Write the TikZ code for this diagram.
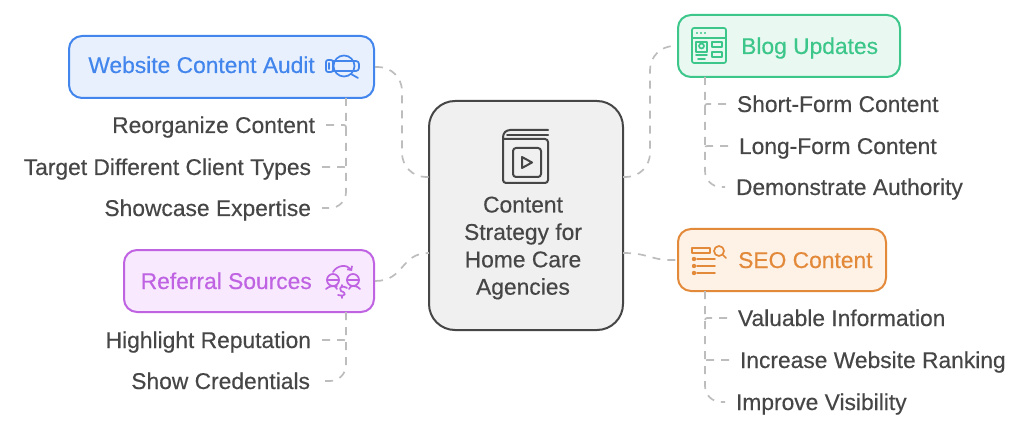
\documentclass[tikz,border=0pt]{standalone}
\usepackage{fontspec}
\setmainfont[RawFeature={embolden=0.4}]{Liberation Sans}
\usetikzlibrary{arrows.meta}
\definecolor{inkgray}{HTML}{464646}
\definecolor{linkgray}{HTML}{BDBDBD}
\definecolor{auditblue}{HTML}{4285EC}
\definecolor{auditfill}{HTML}{E8F0FE}
\definecolor{bloggreen}{HTML}{3CC68A}
\definecolor{blogfill}{HTML}{E9F9F2}
\definecolor{seoorange}{HTML}{E38A3A}
\definecolor{seofill}{HTML}{FEF1E6}
\definecolor{refpurple}{HTML}{BF63E3}
\definecolor{reffill}{HTML}{F8E9FE}
\tikzset{
    link/.style={draw=linkgray,line width=1.7pt,dash pattern=on 8pt off 7pt},
    topicbox/.style={draw,rounded corners=13pt,line width=2pt,inner sep=0pt},
    topictext/.style={inner sep=0pt,text height=19pt,text depth=3pt,font=\fontsize{22.8}{27}\selectfont},
    leafleft/.style={topictext,text=inkgray,anchor=east,outer sep=11pt},
    leafright/.style={topictext,text=inkgray,anchor=west,outer sep=11pt},
    iconline/.style={line width=1.7pt,line cap=round,line join=round}
}

\begin{document}
\begin{tikzpicture}[x=1pt,y=-1pt]
    \useasboundingbox (0,0) rectangle (1024,430);
    %%% BOXES %%%
    \node[topicbox,draw=inkgray,fill=black!6,rounded corners=26pt,minimum width=194pt,minimum height=229pt] (main) at (526,215.5){};
    \node[topicbox,draw=auditblue,fill=auditfill,minimum width=305pt,minimum height=62pt] (audit) at (221.5,67){};
    \node[topicbox,draw=bloggreen,fill=blogfill,minimum width=222pt,minimum height=62pt] (blog) at (789,46){};
    \node[topicbox,draw=seoorange,fill=seofill,minimum width=208pt,minimum height=62pt] (seo) at (782,260){};
    \node[topicbox,draw=refpurple,fill=reffill,minimum width=250pt,minimum height=62pt] (referral) at (249,281){};
    % box titles %
    \node[topictext,text=auditblue,anchor=east] (audittext) at (315,65){Website Content Audit};
    \node[topictext,text=bloggreen,anchor=west] (blogtext) at (741,46){Blog Updates};
    \node[topictext,text=seoorange,anchor=west] (seotext) at (738,260){SEO Content};
    \node[topictext,text=refpurple,anchor=east] (referraltext) at (312,281){Referral Sources};
    \node[topictext,text=inkgray,align=center,text height=,text depth=,font=\fontsize{22.8}{27.4}\selectfont] (maintext) at (523,248){Content\\Strategy for\\Home Care\\Agencies};
    %%% LEAVES %%%
    % website audit %
    \node[leafleft] (reorganize) at (326,125){Reorganize Content};
    \node[leafleft] (target) at (322,167){Target Different Client Types};
    \node[leafleft] (showcase) at (322,208){Showcase Expertise};
    % referral %
    \node[leafleft] (highlight) at (322,340){Highlight Reputation};
    \node[leafleft] (credentials) at (321,381){Show Credentials};
    % blog %
    \node[leafright] (shortform) at (726,104){Short-Form Content};
    \node[leafright] (longform) at (728,146){Long-Form Content};
    \node[leafright] (authority) at (725,187){Demonstrate Authority};
    % seo %
    \node[leafright] (valuable) at (727,318){Valuable Information};
    \node[leafright] (ranking) at (729,360){Increase Website Ranking};
    \node[leafright] (visibility) at (725,402){Improve Visibility};
    %%% CONNECTORS %%%
    \coordinate (mainaudit) at (429,177);
    \coordinate (mainreferral) at (429,253);
    \coordinate (mainblog) at (623,177);
    \coordinate (mainseo) at (623,253);
    \coordinate (auditbus) at (346,98);
    \coordinate (referralbus) at (346,312);
    \coordinate (blogbus) at (705,77);
    \coordinate (seobus) at (705,291);
    % centre to topics %
    \draw[link,rounded corners=24pt] (audit.east) -| (402,120) |- (mainaudit);
    \draw[link,rounded corners=24pt] (mainblog) -| (650,120) |- (blog.west);
    \draw[link] (referral.east) .. controls (405,281) and (400,253) .. (mainreferral);
    \draw[link] (mainseo) .. controls (650,253) and (650,261) .. (seo.west);
    % topics to leaves %
    \draw[link,rounded corners=16pt] (auditbus) |- (showcase.east);
    \draw[link,rounded corners=2pt] (reorganize.east) -- (reorganize.east -| auditbus) -- ++(0,5);
    \draw[link,rounded corners=2pt] (target.east) -- (target.east -| auditbus) -- ++(0,5);
    \draw[link,rounded corners=16pt] (referralbus) |- (credentials.east);
    \draw[link,rounded corners=2pt] (highlight.east) -- (highlight.east -| referralbus) -- ++(0,5);
    \draw[link,rounded corners=16pt] (blogbus) |- (authority.west);
    \draw[link,rounded corners=2pt] (shortform.west) -- (shortform.west -| blogbus) -- ++(0,5);
    \draw[link,rounded corners=2pt] (longform.west) -- (longform.west -| blogbus) -- ++(0,5);
    \draw[link,rounded corners=16pt] (seobus) |- (visibility.west);
    \draw[link,rounded corners=2pt] (valuable.west) -- (valuable.west -| seobus) -- ++(0,5);
    \draw[link,rounded corners=2pt] (ranking.west) -- (ranking.west -| seobus) -- ++(0,5);
    %%% ICONS %%%
    % book %
    \draw[iconline,inkgray,line width=2pt,rounded corners=3pt] (548,130)--(507,130)--(503,134)--(503,183)--(548,183)--(548,139)--(503,139);
    \draw[iconline,inkgray,line width=2pt] (507,135)--(548,135);
    \draw[iconline,inkgray,line width=2pt,rounded corners=3pt] (513,148) rectangle (541,177);
    \draw[iconline,inkgray,line width=2pt] (522,157)--(532,162.5)--(522,168)--cycle;
    % magnifier with tag %
    \draw[iconline,auditblue,rounded corners=2pt] (326,60) rectangle (333,72);
    \draw[iconline,auditblue] (329,63)--(329,69);
    \draw[iconline,auditblue] (344,66) circle (10.5);
    \draw[iconline,auditblue,rounded corners=3pt] (333,61)--(359,61)--(359,71)--(333,71);
    \draw[iconline,auditblue] (351,74)--(358,78);
    % browser window %
    \draw[iconline,bloggreen,rounded corners=2pt] (692,28) rectangle (726,63);
    \draw[iconline,bloggreen] (692,38)--(726,38);
    \fill[bloggreen] (697,33) circle (1.2) (701,33) circle (1.2) (705,33) circle (1.2);
    \draw[iconline,bloggreen] (696,42) rectangle (707,52);
    \draw[iconline,bloggreen] (701.5,46) circle (2.5);
    \draw[iconline,bloggreen] (696,55)--(707,55) (698,59)--(705,59);
    \draw[iconline,bloggreen] (712,42) rectangle (722,47);
    \draw[iconline,bloggreen] (712,52) rectangle (722,57);
    % list with magnifier %
    \draw[iconline,seoorange] (692,248) rectangle (710,253);
    \draw[iconline,seoorange] (719,251) circle (5);
    \draw[iconline,seoorange] (723,255)--(726,258);
    \fill[seoorange] (694,259) circle (2.2) (694,266) circle (2.2) (694,273) circle (2.2);
    \draw[iconline,seoorange] (697,259)--(715,259) (697,266)--(715,266) (697,273)--(715,273);
    % two people with arrow %
    \draw[iconline,refpurple] (333,280) circle (6) (353,280) circle (6);
    \draw[iconline,refpurple] (327,280)--(339,280) (347,280)--(359,280);
    \draw[iconline,refpurple] (326,289) .. controls (329,286) and (333,286) .. (337,286);
    \draw[iconline,refpurple] (337,289) .. controls (336,287) and (335,286) .. (333,286);
    \draw[iconline,refpurple] (349,289) .. controls (350,287) and (351,286) .. (353,286);
    \draw[iconline,refpurple] (360,289) .. controls (357,286) and (355,286) .. (353,286);
    \draw[iconline,refpurple,-{Straight Barb[length=3pt,width=6pt]}] (333,272) .. controls (337,265) and (347,264) .. (352,271);
    \draw[iconline,refpurple] (347,288) .. controls (343,285) and (338,287) .. (341,291) .. controls (347,293) and (346,297) .. (338,295);
    \draw[iconline,refpurple] (342,285)--(342,287) (342,296)--(342,298);
\end{tikzpicture}
\end{document}
